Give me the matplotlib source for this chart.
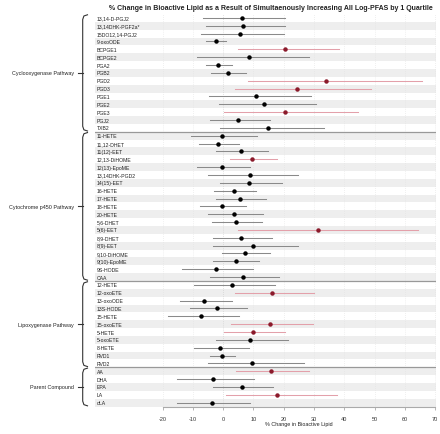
import numpy as np
import matplotlib
matplotlib.use('Agg')
from matplotlib import pyplot as plt
from matplotlib.transforms import blended_transform_factory

plt.rcParams['font.family'] = ['Liberation Sans', 'DejaVu Sans']

lipids = ['13,14-D-PGJ2', '13,14DHK-PGF2a*', '15DO12,14-PGJ2', '9-oxoODE', 'BCPGE1', 'BCPGE2',
          'PGA2', 'PGB2', 'PGD2', 'PGD3', 'PGE1', 'PGE2', 'PGE3', 'PGJ2', 'TXB2',
          '11-HETE', '11,12-DHET', '11(12)-EET', '12,13-DiHOME', '12(13)-EpoME', '13,14DHK-PGD2',
          '14(15)-EET', '16-HETE', '17-HETE', '18-HETE', '20-HETE', '5,6-DHET', '5(6)-EET',
          '8,9-DHET', '8(9)-EET', '9,10-DiHOME', '9(10)-EpoME', '9S-HODE', 'CAA',
          '12-HETE', '12-oxoETE', '13-oxoODE', '13S-HODE', '15-HETE', '15-oxoETE', '5-HETE',
          '5-oxoETE', '8-HETE', 'RVD1', 'RVD2',
          'AA', 'DHA', 'EPA', 'LA', 'αLA']

est = [6.2, 6.5, 5.5, -2.5, 20.4, 8.4, -1.7, 1.7, 34.0, 24.3, 10.9, 13.5, 20.5, 5.0, 14.9,
       -0.2, -1.8, 5.9, 9.7, -0.2, 8.8, 8.6, 3.6, 5.6, -0.2, 3.6, 4.2, 31.4,
       5.9, 9.8, 7.3, 4.1, -2.5, 6.5,
       3.1, 16.2, -6.2, -2.0, -7.2, 15.4, 10.0, 8.8, -0.9, -0.3, 9.7,
       15.8, -3.3, 6.2, 17.8, -3.7]
low = [-6.6, -5.7, -7.2, -5.5, 5.0, -8.6, -5.7, -3.9, 8.3, 3.9, -4.6, -1.3, 0.3, -4.4, -1.1,
       -10.5, -8.0, -2.2, 2.2, -8.6, -5.0, -1.1, -3.0, -2.2, -7.5, -5.0, -3.6, 5.0,
       -3.3, -3.3, -0.3, -3.3, -13.7, -4.4,
       -9.5, 3.9, -14.3, -11.0, -18.2, 2.5, 0.3, -2.5, -9.5, -4.4, -5.1,
       4.3, -15.1, -3.5, 0.9, -15.1]
high = [20.6, 20.4, 20.0, 0.8, 38.2, 28.5, 2.8, 7.4, 65.8, 49.0, 29.0, 30.8, 44.7, 15.4, 33.4,
        11.3, 5.1, 14.9, 17.8, 9.0, 24.8, 19.3, 10.7, 14.0, 7.5, 13.2, 12.7, 64.4,
        16.2, 24.6, 15.6, 12.0, 10.0, 18.6,
        17.2, 30.0, 2.8, 7.9, 5.4, 29.7, 20.6, 21.5, 8.6, 3.9, 26.7,
        28.4, 10.2, 16.6, 37.7, 9.0]
significant = ['BCPGE1', 'PGD2', 'PGD3', 'PGE3', '12,13-DiHOME', '5(6)-EET', '12-oxoETE',
               '15-oxoETE', '5-HETE', 'AA', 'LA']

pathways = ['Cyclooxygenase Pathway', 'Cytochrome p450 Pathway', 'Lipoxygenase Pathway',
            'Parent Compound']
pathway_sizes = [15, 19, 11, 5]
xticks = [-20, -10, 0, 10, 20, 30, 40, 50, 60, 70]

W, H = 440, 435
fig = plt.figure(figsize=(W / 100, H / 100), dpi=100)
ax = fig.add_axes([95 / W, 1 - 408 / H, (436 - 95) / W, (408 - 15) / H])

n = len(lipids)
rows = np.arange(n)
ax.set_xlim(-42.3, 70.3)
ax.set_ylim(n - 0.45, -0.5)

# stripes on every other row
for r in rows:
    if r % 2 == 1:
        ax.axhspan(r - 0.5, r + 0.5, color='#eeeeee', lw=0, zorder=0)

for x in xticks:
    ax.axvline(x, ymin=0, ymax=1, color='#e2e2e2' if x != 0 else '#c8c8c8',
               lw=0.5, ls=(0, (1, 2)), zorder=0.5)

for r, name in enumerate(lipids):
    if name in significant:
        lc, dc = '#e3a0aa', '#8b1a2b'
    else:
        lc, dc = '#8a8a8a', 'black'
    ax.plot([low[r], high[r]], [r, r], color=lc, lw=0.75, zorder=2)
    ax.plot(est[r], r, 'o', color=dc, ms=2.2, zorder=3)
    ax.text(-41.8, r, name, fontsize=3.7, va='center', ha='left', color='#222222')

# separators between pathways
bounds = np.cumsum(pathway_sizes)
for b in bounds[:-1]:
    ax.axhline(b - 0.5, color='#999999', lw=0.9, zorder=1)

ax.set_xticks(xticks)
ax.set_xticklabels([str(t) for t in xticks], fontsize=4.0, color='#333333')
ax.set_yticks([])
ax.tick_params(axis='x', length=2.2, width=0.5, color='#999999', pad=4)
for s in ['top', 'right', 'left']:
    ax.spines[s].set_visible(False)
ax.spines['bottom'].set_bounds(-20, 70)
ax.spines['bottom'].set_color('#aaaaaa')
ax.spines['bottom'].set_linewidth(0.8)
ax.set_xlabel('% Change in Bioactive Lipid', fontsize=3.9, color='#222222')
ax.xaxis.set_label_coords((25 + 42.3) / 112.6, -0.036)

fig.text(271 / W, 1 - 9 / H,
         '% Change in Bioactive Lipid as a Result of Simultaenously Increasing All Log-PFAS by 1 Quartile',
         fontsize=5.0, fontweight='bold', ha='center', va='center', color='#222222')

# braces for pathway groups
tr = blended_transform_factory(fig.transFigure, ax.transData)
start = 0
for name, size in zip(pathways, pathway_sizes):
    top = start - 0.5
    bot = start + size - 0.5
    mid = (top + bot) / 2
    xb = 82.7 / W
    xh = 87.5 / W
    ax.plot([xh, xb + 1.2 / W, xb, xb, xb + 1.2 / W, xh],
            [top + 0.1, top + 0.25, top + 0.7, bot - 0.7, bot - 0.25, bot - 0.1],
            color='#333333', lw=0.8, transform=tr, clip_on=False)
    ax.plot([xb, 78 / W], [mid, mid], color='#333333', lw=0.8, transform=tr, clip_on=False)
    ax.text(74 / W, mid, name, fontsize=3.9, ha='right', va='center', transform=tr,
            color='#222222')
    start += size

fig.savefig('out.png', dpi=100)
